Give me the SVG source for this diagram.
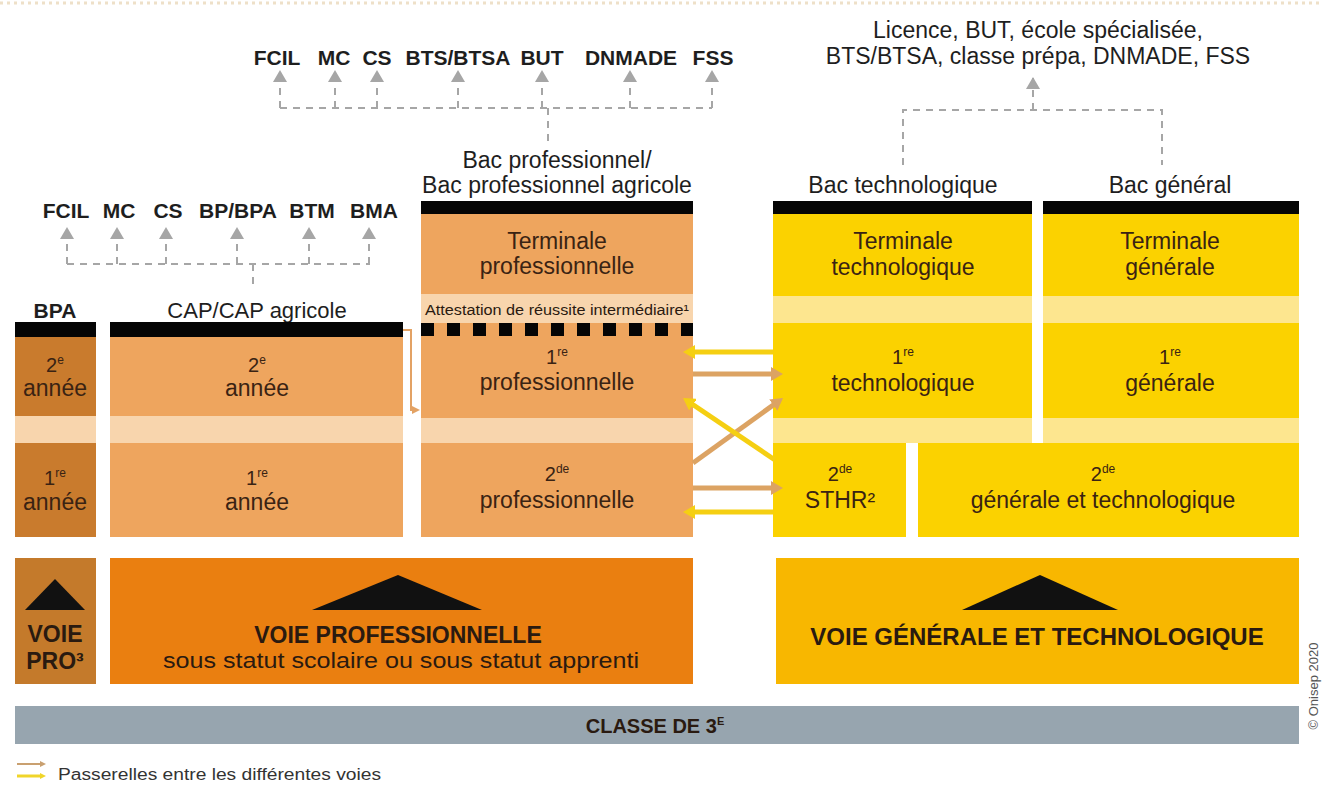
<svg xmlns="http://www.w3.org/2000/svg" width="1323" height="787" viewBox="0 0 1323 787">
<style>
text{font-family:"Liberation Sans",Arial,sans-serif;fill:#2a1a10}
.lbl{font-size:21px;font-weight:bold;fill:#1e1e1e;text-anchor:middle}
.hd{font-size:23px;fill:#1e1e1e;text-anchor:middle}
.bx{font-size:23px;text-anchor:middle;fill:#3a2313}
.num{font-size:20px;text-anchor:middle;fill:#3a2313}
.sup{font-size:12px}
.bar{fill:#050505}
.po{fill:#eea55e}
.pb{fill:#f8d5ad}
.pd{fill:#c97b2d}
.yo{fill:#fbd200}
.yb{fill:#fde68f}
.dash{fill:none;stroke:#a6a6a6;stroke-width:2;stroke-dasharray:7 6}
.pas-y{fill:none;stroke:#f5cf12;stroke-width:5}
.pas-o{fill:none;stroke:#dca363;stroke-width:5}
</style>
<defs>
<marker id="ag" viewBox="0 0 12 14" markerWidth="12" markerHeight="14" refX="11" refY="7" orient="auto" markerUnits="userSpaceOnUse"><path d="M0,0 L12,7 L0,14 z" fill="#a6a6a6"/></marker>
<marker id="ay" viewBox="0 0 12 14" markerWidth="12" markerHeight="14" refX="3" refY="7" orient="auto" markerUnits="userSpaceOnUse"><path d="M0,0 L12,7 L0,14 z" fill="#f5cf12"/></marker>
<marker id="ao" viewBox="0 0 12 14" markerWidth="12" markerHeight="14" refX="3" refY="7" orient="auto" markerUnits="userSpaceOnUse"><path d="M0,0 L12,7 L0,14 z" fill="#dca363"/></marker>
<marker id="ays" viewBox="0 0 6 6" markerWidth="6" markerHeight="6" refX="1" refY="3" orient="auto" markerUnits="userSpaceOnUse"><path d="M0,0 L6,3 L0,6 z" fill="#f0d52a"/></marker>
<marker id="aos" viewBox="0 0 6 6" markerWidth="6" markerHeight="6" refX="1" refY="3" orient="auto" markerUnits="userSpaceOnUse"><path d="M0,0 L6,3 L0,6 z" fill="#c9a070"/></marker>
<marker id="ac" viewBox="0 0 8 8" markerWidth="8" markerHeight="8" refX="2" refY="4" orient="auto" markerUnits="userSpaceOnUse"><path d="M0,0 L8,4 L0,8 z" fill="#e3a264"/></marker>
</defs>

<rect width="1323" height="787" fill="#ffffff"/>
<line x1="0" y1="3" x2="1323" y2="3" stroke="#eee0c8" stroke-width="3" stroke-dasharray="3 4"/>

<!-- Outcome labels -->
<g id="debouches-bac-pro">
<text class="lbl" x="277" y="65">FCIL</text>
<text class="lbl" x="334" y="65">MC</text>
<text class="lbl" x="377" y="65">CS</text>
<text class="lbl" x="458" y="65">BTS/BTSA</text>
<text class="lbl" x="542" y="65">BUT</text>
<text class="lbl" x="631" y="65">DNMADE</text>
<text class="lbl" x="713" y="65">FSS</text>
</g>
<g id="debouches-bac-gt">
<text class="hd" x="1038" y="38">Licence, BUT, école spécialisée,</text>
<text class="hd" x="1038" y="64">BTS/BTSA, classe prépa, DNMADE, FSS</text>
</g>
<g id="debouches-cap">
<text class="lbl" x="66" y="218">FCIL</text>
<text class="lbl" x="119" y="218">MC</text>
<text class="lbl" x="168" y="218">CS</text>
<text class="lbl" x="238" y="218">BP/BPA</text>
<text class="lbl" x="312" y="218">BTM</text>
<text class="lbl" x="374" y="218">BMA</text>
</g>

<!-- BPA column -->
<g id="bpa">
<text class="lbl" x="55" y="318">BPA</text>
<rect class="bar" x="15" y="322" width="81" height="15"/>
<rect class="pd" x="15" y="337" width="81" height="79"/>
<rect class="pb" x="15" y="416" width="81" height="27"/>
<rect class="pd" x="15" y="443" width="81" height="94"/>
<text class="num" x="55" y="372">2<tspan class="sup" dy="-8">e</tspan></text>
<text class="bx" x="55" y="396">année</text>
<text class="num" x="55" y="485">1<tspan class="sup" dy="-8">re</tspan></text>
<text class="bx" x="55" y="510">année</text>
</g>

<!-- CAP column -->
<g id="cap">
<text class="hd" x="257" y="318" style="font-size:22px">CAP/CAP agricole</text>
<rect class="bar" x="110" y="322" width="293" height="15"/>
<rect class="po" x="110" y="337" width="293" height="79"/>
<rect class="pb" x="110" y="416" width="293" height="27"/>
<rect class="po" x="110" y="443" width="293" height="94"/>
<text class="num" x="257" y="372">2<tspan class="sup" dy="-8">e</tspan></text>
<text class="bx" x="257" y="396">année</text>
<text class="num" x="257" y="485">1<tspan class="sup" dy="-8">re</tspan></text>
<text class="bx" x="257" y="510">année</text>
</g>

<!-- Bac pro column -->
<g id="bac-pro">
<text class="hd" x="557" y="168">Bac professionnel/</text>
<text class="hd" x="557" y="193">Bac professionnel agricole</text>
<rect class="bar" x="421" y="201" width="272" height="13"/>
<rect class="po" x="421" y="214" width="272" height="80"/>
<text class="bx" x="557" y="249">Terminale</text>
<text class="bx" x="557" y="274">professionnelle</text>
<rect class="pb" x="421" y="294" width="272" height="29"/>
<text x="557" y="315" text-anchor="middle" style="font-size:14px;fill:#2a1a10" textLength="264" lengthAdjust="spacingAndGlyphs">Attestation de réussite intermédiaire¹</text>
<rect class="po" x="421" y="323" width="272" height="95"/>
<line x1="421" y1="329.5" x2="693" y2="329.5" stroke="#050505" stroke-width="13" stroke-dasharray="13 13"/>
<text class="num" x="557" y="364">1<tspan class="sup" dy="-8">re</tspan></text>
<text class="bx" x="557" y="390">professionnelle</text>
<rect class="pb" x="421" y="418" width="272" height="25"/>
<rect class="po" x="421" y="443" width="272" height="94"/>
<text class="num" x="557" y="481">2<tspan class="sup" dy="-8">de</tspan></text>
<text class="bx" x="557" y="508">professionnelle</text>
</g>

<!-- Bac techno column -->
<g id="bac-techno">
<text class="hd" x="903" y="193">Bac technologique</text>
<rect class="bar" x="773" y="201" width="259" height="13"/>
<rect class="yo" x="773" y="214" width="259" height="82"/>
<text class="bx" x="903" y="249">Terminale</text>
<text class="bx" x="903" y="275">technologique</text>
<rect class="yb" x="773" y="296" width="259" height="27"/>
<rect class="yo" x="773" y="323" width="259" height="95"/>
<text class="num" x="903" y="364">1<tspan class="sup" dy="-8">re</tspan></text>
<text class="bx" x="903" y="391">technologique</text>
<rect class="yb" x="773" y="418" width="259" height="25"/>
</g>

<!-- Bac general column -->
<g id="bac-general">
<text class="hd" x="1170" y="193">Bac général</text>
<rect class="bar" x="1043" y="201" width="256" height="13"/>
<rect class="yo" x="1043" y="214" width="256" height="82"/>
<text class="bx" x="1170" y="249">Terminale</text>
<text class="bx" x="1170" y="275">générale</text>
<rect class="yb" x="1043" y="296" width="256" height="27"/>
<rect class="yo" x="1043" y="323" width="256" height="95"/>
<text class="num" x="1170" y="364">1<tspan class="sup" dy="-8">re</tspan></text>
<text class="bx" x="1170" y="391">générale</text>
<rect class="yb" x="1043" y="418" width="256" height="25"/>
</g>

<g id="seconde-sthr">
<rect class="yo" x="773" y="443" width="133" height="94"/>
<text class="num" x="840" y="481">2<tspan class="sup" dy="-8">de</tspan></text>
<text class="bx" x="840" y="508">STHR²</text>
</g>

<g id="seconde-gt">
<rect class="yo" x="918" y="443" width="381" height="94"/>
<text class="num" x="1103" y="481">2<tspan class="sup" dy="-8">de</tspan></text>
<text class="bx" x="1103" y="508">générale et technologique</text>
</g>

<!-- Voies -->
<g id="voie-pro-bpa">
<rect x="15" y="558" width="81" height="126" fill="#c47a2b"/>
<path d="M55,579 L85,610 L25,610 z" fill="#111"/>
<text x="55" y="642" text-anchor="middle" style="font-size:23px;font-weight:bold">VOIE</text>
<text x="55" y="669" text-anchor="middle" style="font-size:23px;font-weight:bold">PRO³</text>
</g>
<g id="voie-professionnelle">
<rect x="110" y="558" width="583" height="126" fill="#ea7f10"/>
<path d="M398,575 L482,610 L312,610 z" fill="#111"/>
<text x="398" y="643" text-anchor="middle" style="font-size:23px;font-weight:bold">VOIE PROFESSIONNELLE</text>
<text x="401" y="668" text-anchor="middle" style="font-size:22px" textLength="476" lengthAdjust="spacingAndGlyphs">sous statut scolaire ou sous statut apprenti</text>
</g>
<g id="voie-gt">
<rect x="776" y="558" width="523" height="126" fill="#f8b700"/>
<path d="M1040,575 L1118,610 L962,610 z" fill="#111"/>
<text x="1037" y="645" text-anchor="middle" style="font-size:24px;font-weight:bold">VOIE GÉNÉRALE ET TECHNOLOGIQUE</text>
</g>
<g id="classe-3e">
<rect x="15" y="706" width="1284" height="38" fill="#97a5af"/>
<text x="655" y="733" text-anchor="middle" style="font-size:20px;font-weight:bold">CLASSE DE 3<tspan style="font-size:11px" dy="-8">E</tspan></text>
</g>

<!-- Connectors -->
<g id="connectors">
<path class="dash" d="M280,108 H712 M548,108 V143"/>
<path class="dash" d="M280,108 V71" marker-end="url(#ag)"/>
<path class="dash" d="M335,108 V71" marker-end="url(#ag)"/>
<path class="dash" d="M377,108 V71" marker-end="url(#ag)"/>
<path class="dash" d="M458,108 V71" marker-end="url(#ag)"/>
<path class="dash" d="M542,108 V71" marker-end="url(#ag)"/>
<path class="dash" d="M630,108 V71" marker-end="url(#ag)"/>
<path class="dash" d="M712,108 V71" marker-end="url(#ag)"/>

<path class="dash" d="M903,165 V110 H1162 V165"/>
<path class="dash" d="M1033,110 V78" marker-end="url(#ag)"/>

<path class="dash" d="M67,264 H370 M253,264 V290"/>
<path class="dash" d="M67,264 V228" marker-end="url(#ag)"/>
<path class="dash" d="M117,264 V228" marker-end="url(#ag)"/>
<path class="dash" d="M166,264 V228" marker-end="url(#ag)"/>
<path class="dash" d="M237,264 V228" marker-end="url(#ag)"/>
<path class="dash" d="M309,264 V228" marker-end="url(#ag)"/>
<path class="dash" d="M369,264 V228" marker-end="url(#ag)"/>

<path d="M403,330 H411 V410 H414" fill="none" stroke="#e3a264" stroke-width="2" marker-end="url(#ac)"/>

<path class="pas-y" d="M773,352 H692" marker-end="url(#ay)"/>
<path class="pas-o" d="M693,374 H774" marker-end="url(#ao)"/>
<path class="pas-o" d="M693,463 L775.7,403.3" marker-end="url(#ao)"/>
<path class="pas-y" d="M775,460 L690.5,403" marker-end="url(#ay)"/>
<path class="pas-o" d="M693,488 H774" marker-end="url(#ao)"/>
<path class="pas-y" d="M773,512 H692" marker-end="url(#ay)"/>
</g>

<!-- Legend -->
<g id="legende">
<path d="M17,764 H41" stroke="#c9a070" stroke-width="2" marker-end="url(#aos)"/>
<path d="M17,776 H41" stroke="#f0d52a" stroke-width="3" marker-end="url(#ays)"/>
<text x="58" y="780" style="font-size:16px;fill:#333" textLength="323" lengthAdjust="spacingAndGlyphs">Passerelles entre les différentes voies</text>
</g>
<text transform="translate(1318,686) rotate(-90)" text-anchor="middle" style="font-size:13px;fill:#555">© Onisep 2020</text>
</svg>
